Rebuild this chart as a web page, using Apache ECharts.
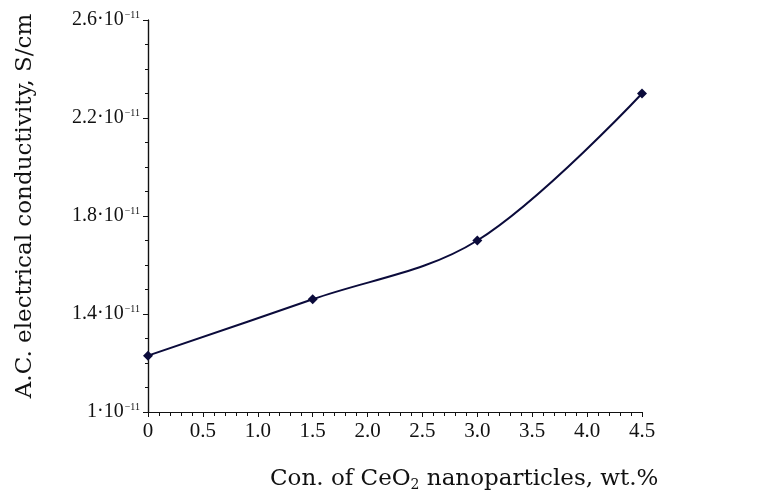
<!DOCTYPE html>
<html>
<head>
<meta charset="utf-8">
<script src="https://cdn.jsdelivr.net/npm/echarts@6/dist/echarts.min.js"></script>
<style>
  html, body { margin: 0; padding: 0; background: #fff; }
  #chart { width: 782px; height: 499px; }
</style>
</head>
<body>
<div id="chart"></div>
<script>
// CeO2 content (wt.%) vs A.C. conductivity (S/cm)
const ceo2Content = [0, 1.5, 3.0, 4.5];
const conductivity = [1.23e-11, 1.46e-11, 1.70e-11, 2.30e-11];
const yMajorTicks = [1.0e-11, 1.4e-11, 1.8e-11, 2.2e-11, 2.6e-11];
const yMinorTicks = [1.0e-11, 1.1e-11, 1.2e-11, 1.3e-11, 1.4e-11, 1.5e-11, 1.6e-11, 1.7e-11,
  1.8e-11, 1.9e-11, 2.0e-11, 2.1e-11, 2.2e-11, 2.3e-11, 2.4e-11, 2.5e-11, 2.6e-11];
const xTitle = 'Con. of CeO';
const yTitle = 'A.C. electrical conductivity, S/cm';

const lineColor = '#0b0b3b';
const tickFont = 'Liberation Serif';
const titleFont = 'DejaVu Serif';

var chart = echarts.init(document.getElementById('chart'));

var points = ceo2Content.map((x, i) => [x, conductivity[i]]);

var yLabel = (v) => {
  var m = +(v / 1e-11).toFixed(1);
  return '{m|' + m + '·10}{s|−11}';
};

var yAxisBase = {
  type: 'value',
  min: 1.0e-11,
  max: 2.6e-11,
  interval: 0.1e-11,
  position: 'left',
  splitLine: { show: false },
  axisLine: { show: true, onZero: false, lineStyle: { color: '#111', width: 1.2 } },
};

var option = {
  animation: false,
  backgroundColor: '#fff',
  grid: { left: 148, right: 140, top: 20, bottom: 87, containLabel: false },
  xAxis: {
    type: 'value',
    min: 0,
    max: 4.5,
    interval: 0.5,
    splitLine: { show: false },
    axisLine: { show: true, onZero: false, lineStyle: { color: '#111', width: 1.2 } },
    axisTick: { show: true, inside: false, length: 5, lineStyle: { color: '#111' } },
    minorTick: { show: true, splitNumber: 5, length: 4, lineStyle: { color: '#111' } },
    minorSplitLine: { show: false },
    axisLabel: {
      margin: 9,
      color: '#111',
      fontFamily: tickFont,
      fontSize: 21,
      formatter: (v) => (v === 0 ? '0' : v.toFixed(1)),
    },
  },
  yAxis: [
    Object.assign({}, yAxisBase, {
      axisTick: { show: true, length: 5, customValues: yMajorTicks, lineStyle: { color: '#111' } },
      axisLabel: {
        margin: 8,
        customValues: yMajorTicks,
        formatter: yLabel,
        rich: {
          m: { fontFamily: tickFont, fontSize: 20, color: '#111' },
          s: { fontFamily: tickFont, fontSize: 10, color: '#111', verticalAlign: 'top', padding: [0, 0, 10, 1] },
        },
      },
    }),
    Object.assign({}, yAxisBase, {
      axisTick: { show: true, length: 3, customValues: yMinorTicks, lineStyle: { color: '#111' } },
      axisLabel: { show: false },
    }),
  ],
  series: [
    {
      type: 'line',
      data: points,
      smooth: 0.35,
      symbol: 'diamond',
      symbolSize: 10,
      itemStyle: { color: lineColor },
      lineStyle: { color: lineColor, width: 2 },
      clip: false,
    },
  ],
  graphic: [
    {
      type: 'text',
      left: 270,
      top: 468,
      style: {
        text: '{t|' + xTitle + '}{sub|2}{t| nanoparticles, wt.%}',
        rich: {
          t: { fontFamily: titleFont, fontSize: 23, fill: '#111' },
          sub: { fontFamily: titleFont, fontSize: 14, fill: '#111', padding: [12, 0, 0, 0] },
        },
      },
    },
    {
      type: 'text',
      x: 25,
      y: 206,
      rotation: Math.PI / 2,
      style: {
        text: yTitle,
        fontFamily: titleFont,
        fontSize: 23,
        fill: '#111',
        align: 'center',
        verticalAlign: 'middle',
      },
    },
  ],
};

chart.setOption(option);
</script>
</body>
</html>
